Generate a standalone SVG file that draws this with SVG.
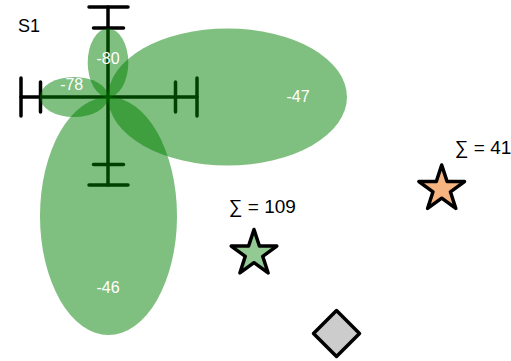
<svg xmlns="http://www.w3.org/2000/svg" width="511" height="361" viewBox="0 0 511 361">
  <style>
    .bar { stroke: #000; stroke-width: 3.5; stroke-linecap: round; fill: none; }
    .lobe { fill: rgb(0,128,0); fill-opacity: 0.5; }
    .val { font-family: "Liberation Sans", Arial, sans-serif; font-size: 16px; fill: #fff; text-anchor: middle; }
    .lbl { font-family: "Liberation Sans", Arial, sans-serif; font-size: 18px; fill: #000; }
    .sum { font-family: "Liberation Sans", Arial, sans-serif; font-size: 19px; fill: #000; }
    .mark { stroke: #000; stroke-width: 3.5; stroke-linejoin: round; }
  </style>
  <defs>
    <polygon id="star" points="0,-24 5.39,-7.42 22.83,-7.42 8.72,2.83 14.11,19.42 0,9.17 -14.11,19.42 -8.72,2.83 -22.83,-7.42 -5.39,-7.42"/>
  </defs>

  <g id="connectors"/>

  <!-- S1: polar lobes with error bars centred at (108,97) -->
  <g id="s1">
    <text class="lbl" x="18" y="32">S1</text>
    <g id="s1-bars">
      <line class="bar" x1="21" y1="97" x2="197" y2="97"/>
      <line class="bar" x1="108" y1="7" x2="108" y2="185"/>
      <!-- caps -->
      <line class="bar" x1="21" y1="78" x2="21" y2="116"/>
      <line class="bar" x1="40.5" y1="82" x2="40.5" y2="112"/>
      <line class="bar" x1="175.5" y1="82" x2="175.5" y2="112"/>
      <line class="bar" x1="197" y1="78" x2="197" y2="116"/>
      <line class="bar" x1="89" y1="7" x2="128" y2="7"/>
      <line class="bar" x1="93.5" y1="28" x2="123.5" y2="28"/>
      <line class="bar" x1="93.5" y1="164.5" x2="123.5" y2="164.5"/>
      <line class="bar" x1="89" y1="185" x2="128" y2="185"/>
    </g>
    <ellipse class="lobe" cx="108" cy="62.7" rx="20.3" ry="34.3"/>
    <ellipse class="lobe" cx="74" cy="97" rx="34" ry="20"/>
    <ellipse class="lobe" cx="227.5" cy="97" rx="119.5" ry="68.5"/>
    <ellipse class="lobe" cx="108.5" cy="216" rx="68.5" ry="119"/>
    <text class="val" x="108" y="64">-80</text>
    <text class="val" x="71.7" y="90">-78</text>
    <text class="val" x="298" y="101.7">-47</text>
    <text class="val" x="108" y="293.3">-46</text>
  </g>

  <g id="star-green">
    <use href="#star" class="mark" fill="#93c993" transform="translate(254,253.5)"/>
    <text class="sum" x="229" y="212.5">∑ = 109</text>
  </g>

  <g id="star-orange">
    <use href="#star" class="mark" fill="#f6b580" transform="translate(441.7,189)"/>
    <text class="sum" x="455" y="154">∑ = 41</text>
  </g>

  <g id="diamond">
    <polygon class="mark" fill="#cccccc" points="336.5,310.5 359.5,333.5 336.5,356.5 313.5,333.5"/>
  </g>
</svg>
